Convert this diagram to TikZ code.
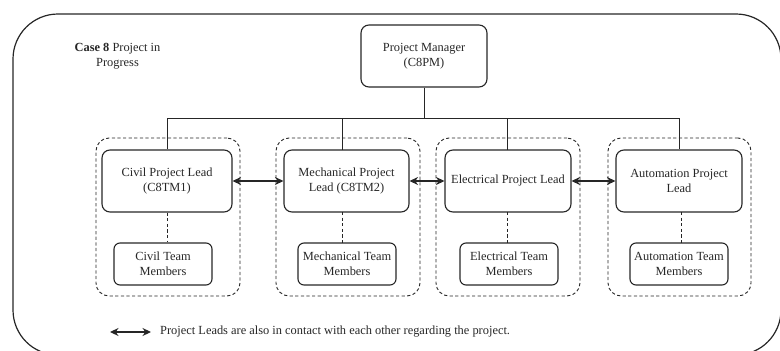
\documentclass[tikz,border=0pt]{standalone}
\usepackage{fontspec}
\setmainfont{Liberation Serif}
\usetikzlibrary{arrows.meta}
\definecolor{ink}{HTML}{262626}
\begin{document}
\begin{tikzpicture}[x=1pt,y=-1pt,
  every node/.style={font=\fontsize{12.4}{15.5}\selectfont, text=ink, align=center, inner sep=0pt},
  leadbox/.style={draw=ink, line width=1.1pt, rounded corners=8pt, minimum width=128pt, minimum height=62pt},
  teambox/.style={draw=ink, line width=1.1pt, rounded corners=6pt, minimum width=98pt, minimum height=42pt},
  groupbox/.style={draw=ink, line width=0.9pt, dash pattern=on 3.2pt off 2.4pt, rounded corners=13pt, minimum width=144pt, minimum height=158pt},
  wire/.style={draw=ink, line width=1pt},
  memberlink/.style={draw=ink, line width=1pt, dash pattern=on 3.2pt off 2.4pt},
  contact/.style={draw=ink, line width=1.1pt, {Stealth[length=8.5pt,width=8pt]}-{Stealth[length=8.5pt,width=8pt]}}]
\useasboundingbox (0,0) rectangle (780,351);

% outer frame (runs past the page on the right and bottom)
\begin{scope}
\clip (0,0) rectangle (780,351);
\draw[ink, line width=1.2pt, rounded corners=45pt] (13,14) rectangle (781,355);
\end{scope}

% caption
\node (caption) at (117.5,56) {\textbf{Case 8} Project in\\Progress};

% dashed team groups
\node[groupbox] (civgrp) at (168,217) {};
\node[groupbox] (mechgrp) at (348,217) {};
\node[groupbox] (elecgrp) at (508,217) {};
\node[groupbox, minimum width=143pt] (autogrp) at (679.5,217) {};

% manager
\node[leadbox, minimum width=126pt] (pm) at (424,56) {Project Manager\\(C8PM)};

% project leads
\node[leadbox, minimum width=130pt] (civ) at (167,181) {Civil Project Lead\\(C8TM1)};
\node[leadbox, minimum width=125pt] (mech) at (346.5,181) {Mechanical Project\\Lead (C8TM2)};
\node[leadbox, minimum width=126pt] (elec) at (508,181) {Electrical Project Lead};
\node[leadbox, minimum width=126pt] (auto) at (679,181) {Automation Project\\Lead};

% team members
\node[teambox] (civteam) at (163,264) {Civil Team\\Members};
\node[teambox] (mechteam) at (347,264) {Mechanical Team\\Members};
\node[teambox] (electeam) at (509,264) {Electrical Team\\Members};
\node[teambox] (autoteam) at (679,264) {Automation Team\\Members};

% reporting lines
\coordinate (bus) at (0,118);
\draw[wire] (pm.south) -- (pm.south |- bus);
\draw[wire] (civ.north) -- (civ.north |- bus) -| (auto.north);
\draw[wire] (342,118) -- (342,150);
\draw[wire] (507,118) -- (507,150);

% leads to their team members
\draw[memberlink] (civ.south) -- (civ.south |- civteam.north);
\draw[memberlink] (342,212) -- (342,243);
\draw[memberlink] (507,212) -- (507,243);
\draw[memberlink] (681,212) -- (681,243);

% contact between leads
\draw[contact] (civ.east) -- (mech.west);
\draw[contact] (mech.east) -- (elec.west);
\draw[contact] (elec.east) -- (auto.west);

% legend
\coordinate (legA) at (110,332);
\coordinate (legB) at (151,332);
\draw[contact] (legA) -- (legB);
\node[anchor=west] (legtext) at (160,332) {Project Leads are also in contact with each other regarding the project.};
\end{tikzpicture}
\end{document}
